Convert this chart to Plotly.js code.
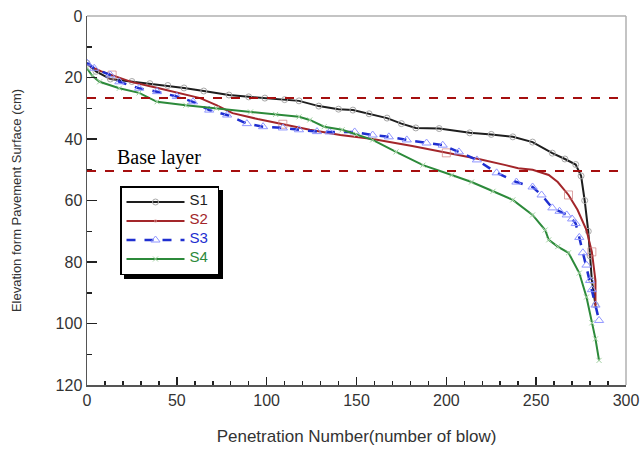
<!DOCTYPE html>
<html>
<head>
<meta charset="utf-8">
<script src="https://cdn.plot.ly/plotly-3.0.1.min.js"></script>
<style>
html,body{margin:0;padding:0;background:#fff;}
#chart{width:642px;height:455px;}
#chart .legend rect.bg{filter:drop-shadow(4px 4px 0px #000);}
</style>
</head>
<body>
<div id="chart"></div>
<script>
// Penetration number (x) vs elevation from pavement surface (y, cm)
const s1X = [0, 5, 13, 25, 35, 45, 54, 65, 79, 90, 99, 110, 118, 129, 140, 148, 157, 167, 175, 183, 196, 213, 225, 237, 248, 259, 266, 272, 275, 277, 279, 280, 281, 283];
const s1Y = [15.3, 18, 20.5, 21.3, 22, 22.6, 23.4, 24.4, 25.7, 26.3, 26.7, 27.2, 27.6, 29.3, 30.3, 30.6, 31.8, 33.2, 35, 36.4, 36.6, 38, 38.5, 39.3, 41, 44.6, 46.5, 48.3, 52, 60, 70, 78, 86, 94];

const s2X = [0, 2, 8, 14, 25, 40, 55, 63, 72, 81, 95, 109, 124, 141, 159, 181, 200, 218, 233, 240, 248, 257, 262, 268, 273, 278, 281, 283, 283];
const s2Y = [15.5, 16.5, 18, 19.2, 21.5, 23.5, 25.5, 26.7, 29, 31.6, 33.5, 35.2, 37, 38.7, 40, 42.3, 44.5, 46.5, 48.5, 49.5, 50, 51.7, 54, 58.2, 63, 69.6, 76.7, 86, 94.6];
const s2MarkerIdx = [3, 11, 16, 23, 26];

const s3X = [0, 4, 13, 18, 29, 39, 50, 59, 68, 78, 89, 98, 109, 118, 128, 135, 149, 159, 168, 178, 189, 198, 207, 217, 228, 239, 248, 253, 259, 263, 267, 270, 272, 274, 276, 278, 280, 281, 283, 285];
const s3Y = [15.3, 17, 19.2, 21.4, 23.5, 24.6, 26.2, 27.9, 30.6, 32.2, 35, 36, 36.4, 37, 37.6, 37.7, 37.7, 38.7, 39.3, 40.3, 41.3, 42, 44.2, 46.8, 51, 54, 55.6, 58.2, 62.4, 63.5, 64.7, 66, 67.5, 72, 77, 81, 86, 89, 94, 99];

const s4X = [0, 3, 7, 18, 29, 39, 55, 72, 91, 105, 118, 124, 132, 142, 150, 159, 172, 187, 203, 214, 226, 237, 248, 255, 257, 262, 268, 274, 278, 281, 283, 285];
const s4Y = [17, 19.5, 21.4, 23.5, 25, 27.9, 29, 30, 31.2, 32, 32.8, 33.8, 36, 37, 38.5, 40.3, 44.2, 48.5, 51.7, 54, 57, 59.8, 64.7, 69.6, 72.8, 75, 77, 83.6, 91.4, 99.8, 105, 112];

const seriesNames = ["S1", "S2", "S3", "S4"];
const layerLines = [26.7, 50.4];
const layerLabel = "Base layer";
const xTicks = [0, 50, 100, 150, 200, 250, 300];
const yTicks = [0, 20, 40, 60, 80, 100, 120];

const colS1 = "#1e1e1e", colS2 = "#a3262a", colS3 = "#1f2fd0", colS4 = "#2c8a3a";
const pad = "&nbsp;";
function legName(txt, col) {
  return '<span style="color:' + col + ';font-size:15px">' + txt + pad + '</span>';
}

const traces = [
  {x: s1X, y: s1Y, name: legName(seriesNames[0], colS1), mode: "lines+markers",
   line: {color: colS1, width: 2}, marker: {symbol: "circle-open", size: 6, color: "#a8a8a8", line: {width: 1}}},
  {x: s2X, y: s2Y, name: legName(seriesNames[1], colS2), mode: "lines+markers",
   line: {color: colS2, width: 2},
   marker: {symbol: "square-open", color: "#d08080", line: {width: 1},
            size: s2X.map((v, i) => s2MarkerIdx.indexOf(i) >= 0 ? 8 : 0)}},
  {x: s3X, y: s3Y, name: legName(seriesNames[2], colS3), mode: "lines+markers",
   line: {color: colS3, width: 2.5, dash: "dash"}, marker: {symbol: "triangle-up-open", size: 8, color: "#8f95ff", line: {width: 1}}},
  {x: s4X, y: s4Y, name: legName(seriesNames[3], colS4), mode: "lines+markers",
   line: {color: colS4, width: 2}, marker: {symbol: "x-thin-open", size: 5, color: "#a0d0a0", line: {width: 1}}}
];

const W = 642, H = 455, mL = 87, mR = 16, mT = 16, mB = 70;
const pw = W - mL - mR, ph = H - mT - mB;
function px2x(p) { return (p - mL) / pw; }
function py2y(p) { return (H - mB - p) / ph; }

const shapes = layerLines.map(v => ({type: "line", xref: "paper", x0: 0, x1: 1, yref: "y", y0: v, y1: v,
  line: {color: "#a50f0f", width: 2, dash: "dash"}}));
// frame top & right (grey)
shapes.push({type: "line", xref: "paper", yref: "paper", x0: 0, x1: 1, y0: 1, y1: 1, line: {color: "#b0b0b0", width: 1.5}});
shapes.push({type: "line", xref: "paper", yref: "paper", x0: 1, x1: 1, y0: 0, y1: 1, line: {color: "#b0b0b0", width: 1.5}});

const layout = {
  width: W, height: H,
  margin: {l: mL, r: mR, t: mT, b: mB},
  paper_bgcolor: "#fff", plot_bgcolor: "#fff",
  showlegend: true,
  legend: {x: px2x(120), y: py2y(186), xanchor: "left", yanchor: "top", bgcolor: "#fff",
           bordercolor: "#000", borderwidth: 1.5, font: {family: "Liberation Sans, Arial", size: 7},
           tracegroupgap: 0, itemwidth: 58},
  xaxis: {range: [0, 300], tickvals: xTicks, ticktext: xTicks.map(String), ticks: "inside", ticklen: 8, tickwidth: 1.5,
          tickcolor: "#222", showline: true, linecolor: "#555", linewidth: 1.5, showgrid: false, zeroline: false,
          tickfont: {family: "Liberation Sans, Arial", size: 16, color: "#333"},
          minor: {dtick: 10, ticks: "inside", ticklen: 4, tickwidth: 1.5, tickcolor: "#222", showgrid: false},
          title: {text: "Penetration Number(number of blow)", font: {family: "Liberation Sans, Arial", size: 17, color: "#333"}, standoff: 22}},
  yaxis: {range: [120, 0], tickvals: yTicks, ticktext: yTicks.map(String), ticks: "inside", ticklen: 10, tickwidth: 1.5,
          tickcolor: "#222", showline: true, linecolor: "#555", linewidth: 1.5, showgrid: false, zeroline: false,
          tickfont: {family: "Liberation Sans, Arial", size: 16, color: "#333"},
          minor: {dtick: 10, ticks: "inside", ticklen: 5, tickwidth: 1.5, tickcolor: "#222", showgrid: false},
          title: {text: "Elevation form Pavement Surface (cm)", font: {family: "Liberation Sans, Arial", size: 13, color: "#333"}, standoff: 31}},
  shapes: shapes,
  annotations: [{xref: "x", yref: "y", x: 15.5, y: 45.9, xanchor: "left", yanchor: "middle", showarrow: false,
                 text: layerLabel, font: {family: "Liberation Serif, Times New Roman", size: 20, color: "#000"}}]
};

Plotly.newPlot("chart", traces, layout, {displayModeBar: false, staticPlot: true});
</script>
</body>
</html>
